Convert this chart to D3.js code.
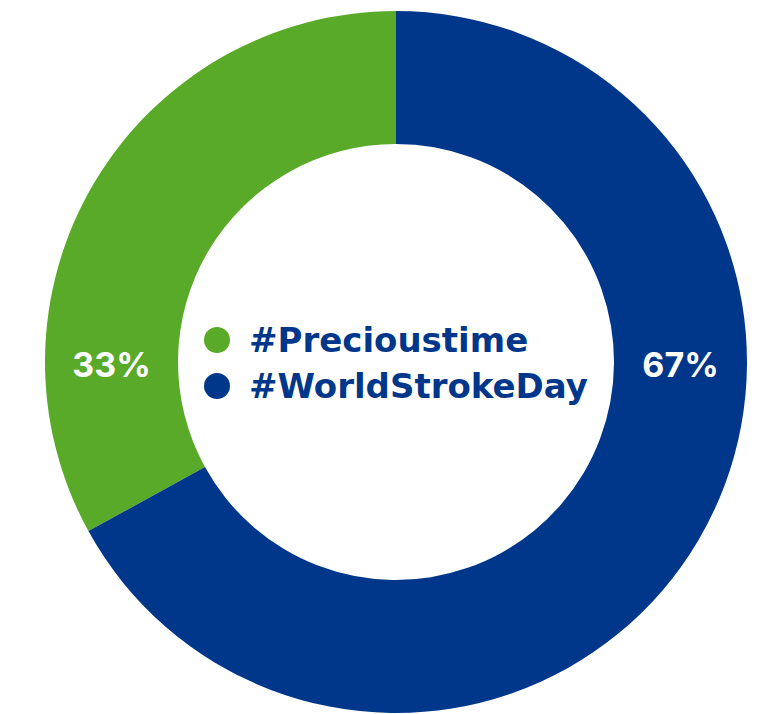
<!DOCTYPE html>
<html lang="en">
<head>
<meta charset="UTF-8">
<title>Donut</title>
<script src="https://cdn.jsdelivr.net/npm/d3@7"></script>
<style>
  body { margin: 0; background: #fff; }
</style>
</head>
<body>
<svg width="778" height="714" id="mainsvg"></svg>
<script>
  const categories = ['#Precioustime', '#WorldStrokeDay']
  const values = [33, 67]
  const labels = ['33%', '67%']
  const colors = ['#5AAA29', '#00378A']

  const svg = d3.select('#mainsvg')
  const cx = 396, cy = 362
  const outerR = 351, innerR = 218

  const g = svg.append('g').attr('transform', `translate(${cx},${cy})`)

  const total = d3.sum(values)
  const start = -2 * Math.PI * values[0] / total
  const pie = d3.pie().sort(null).value(d => d.value)
    .startAngle(start).endAngle(start + 2 * Math.PI)
  const data = categories.map((c, i) => ({ name: c, value: values[i], label: labels[i], color: colors[i] }))
  const arcs = pie(data)

  const arc = d3.arc().innerRadius(innerR).outerRadius(outerR)

  g.selectAll('.slice').data(arcs).enter().append('path')
    .attr('class', 'slice')
    .attr('d', arc)
    .attr('fill', d => d.data.color)

  // percentage labels sit on the horizontal line through the centre
  const midR = (innerR + outerR) / 2
  g.selectAll('.pct').data(arcs).enter().append('text')
    .attr('class', 'pct')
    .attr('x', d => Math.sign(arc.centroid(d)[0]) * midR)
    .attr('y', 6)
    .attr('text-anchor', 'middle')
    .attr('dominant-baseline', 'middle')
    .attr('fill', '#fff')
    .attr('font-family', 'Inter, sans-serif')
    .attr('font-weight', 700)
    .attr('font-size', 34)
    .text(d => d.data.label)

  // legend in the hole
  const legend = g.selectAll('.leg').data(data).enter().append('g')
    .attr('class', 'leg')
    .attr('transform', (d, i) => `translate(-179,${-22 + i * 46})`)
  legend.append('circle').attr('r', 13).attr('fill', d => d.color)
  legend.append('text')
    .attr('x', 32).attr('y', 12)
    .attr('fill', colors[1])
    .attr('font-family', '"DejaVu Sans", sans-serif')
    .attr('font-weight', 700)
    .attr('font-size', 34)
    .text(d => d.name)
</script>
</body>
</html>
